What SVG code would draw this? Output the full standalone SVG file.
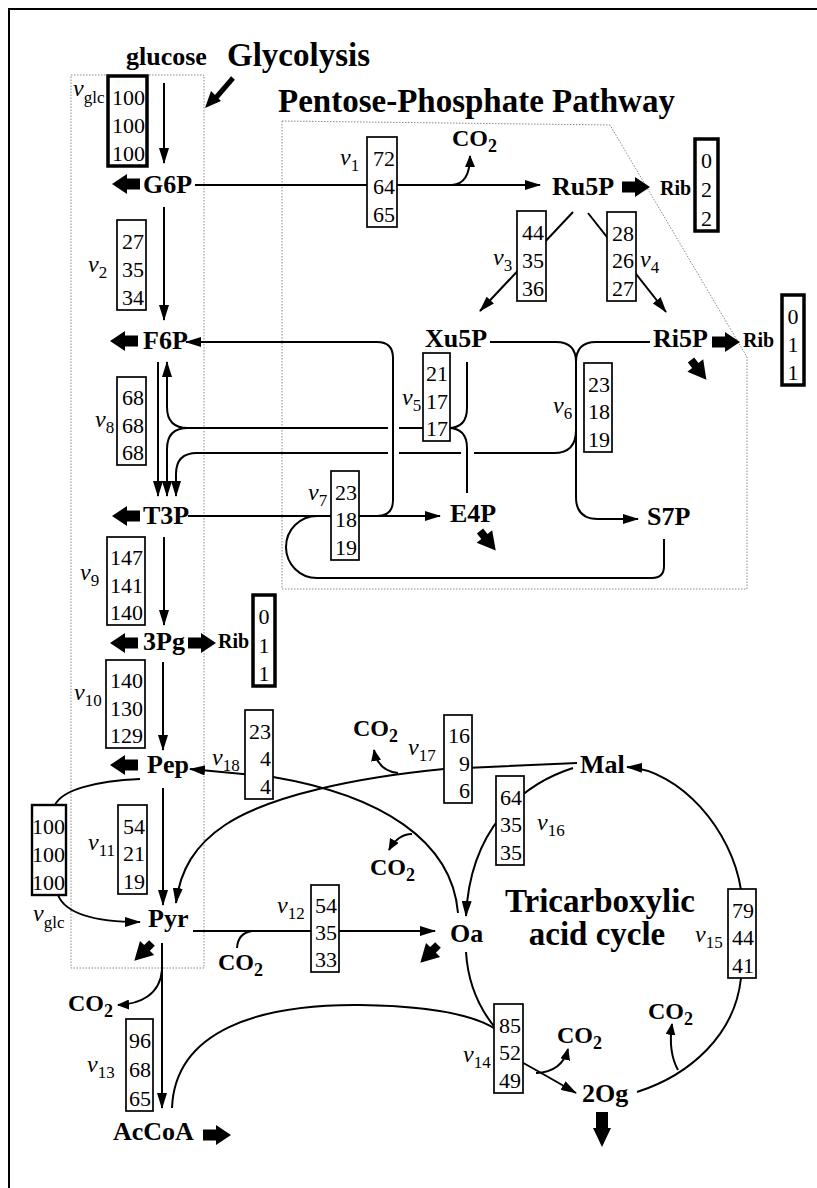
<svg xmlns="http://www.w3.org/2000/svg" xmlns:xlink="http://www.w3.org/1999/xlink" width="817" height="1188" viewBox="0 0 817 1188">
<style>
.ln{fill:none;stroke:#000;stroke-width:2}
.bx{fill:#fff;stroke:#000;stroke-width:1.7}
.bxt{fill:#fff;stroke:#000;stroke-width:3.5}
.bxm{fill:#fff;stroke:#000;stroke-width:2.4}
.dot{fill:none;stroke:#888;stroke-width:1;stroke-dasharray:1.5 1.5}
.n{font-family:"Liberation Serif","Times New Roman",serif;font-weight:bold;font-size:26px}
.t{font-family:"Liberation Serif","Times New Roman",serif;font-weight:bold;font-size:33px}
.rib{font-family:"Liberation Serif","Times New Roman",serif;font-weight:bold;font-size:20px}
.co{font-family:"Liberation Serif","Times New Roman",serif;font-weight:bold;font-size:24px}
.cs{font-size:18px}
.num{font-family:"Liberation Serif","Times New Roman",serif;font-size:22px;text-anchor:end}
.one{font-family:"Liberation Serif","Times New Roman",serif;font-size:22px;text-anchor:middle}
.v{font-family:"Liberation Serif","Times New Roman",serif;font-style:italic;font-size:24px}
.s{font-style:normal;font-size:17px}
</style>
<defs>
<marker id="ah" markerUnits="userSpaceOnUse" markerWidth="16" markerHeight="10" refX="15" refY="5" orient="auto"><path d="M0,0 L16,5 L0,10 Z"/></marker>
<marker id="as" markerUnits="userSpaceOnUse" markerWidth="12" markerHeight="10" refX="11" refY="5" orient="auto"><path d="M0,0 L12,5 L0,10 Z"/></marker>
<path id="fat" d="M0,-5.5 H13 V-10 L28,0 L13,10 V5.5 H0 Z"/>
<path id="fs" d="M0,-4 H7 V-10 L25,0 L7,10 V4 H0 Z"/>
</defs>
<rect width="817" height="1188" fill="#fff"/>
<path d="M9,1188 V9 H817" fill="none" stroke="#000" stroke-width="2"/>
<g id="regions">
<rect class="dot" x="71" y="75" width="133" height="893"/>
<path class="dot" d="M282,121 L610,125 L747,357 L747,589 L282,589 Z"/>
</g>
<g id="connectors">
<path class="ln" d="M164,83 V163" marker-end="url(#ah)"/>
<path class="ln" d="M195,185 H540" marker-end="url(#ah)"/>
<path class="ln" d="M452,185 Q470,184 470,156" marker-end="url(#as)"/>
<path class="ln" d="M164,207 V320" marker-end="url(#ah)"/>
<path class="ln" d="M573,212 L480,311" marker-end="url(#ah)"/>
<path class="ln" d="M588,213 L666,312" marker-end="url(#ah)"/>
<path class="ln" d="M467,362 V408 Q467,428 448,428"/>
<path class="ln" d="M448,428 Q467,428 467,448 V493"/>
<path class="ln" d="M448,428 H399 M388,428 H188"/>
<path class="ln" d="M188,428 Q167,428 167,407 V362" marker-end="url(#ah)"/>
<path class="ln" d="M188,428 Q167,428 167,449 V496" marker-end="url(#ah)"/>
<path class="ln" d="M490,342 H556 Q576,342 576,362"/>
<path class="ln" d="M650,342 H596 Q576,342 576,362"/>
<path class="ln" d="M576,362 V497 Q576,519 598,519 H638" marker-end="url(#ah)"/>
<path class="ln" d="M576,430 Q576,453 554,453 H474 M461,453 H399"/>
<path class="ln" d="M388,453 H197 Q176,453 176,474 V496" marker-end="url(#ah)"/>
<path class="ln" d="M188,516 H440" marker-end="url(#ah)"/>
<path class="ln" d="M360,516 H377 Q393,516 393,500 V358 Q393,342 377,342 H186" marker-end="url(#ah)"/>
<path class="ln" d="M664,539 V566 Q664,578 652,578 H317 A31,31 0 0 1 317,516 H331"/>
<path class="ln" d="M158,362 V496" marker-end="url(#ah)"/>
<path class="ln" d="M164,537 V625" marker-end="url(#ah)"/>
<path class="ln" d="M163,662 V750" marker-end="url(#ah)"/>
<path class="ln" d="M163,788 V905" marker-end="url(#ah)"/>
<path class="ln" d="M193,931 H435" marker-end="url(#ah)"/>
<path class="ln" d="M252,931 Q238,933 237,948"/>
<path class="ln" d="M162,943 V1108" marker-end="url(#ah)"/>
<path class="ln" d="M162,970 C160,995 140,1004 118,1005" marker-end="url(#as)"/>
<path class="ln" d="M466,952 C468,985 480,1010 497,1030"/>
<path class="ln" d="M172,1108 C175,1030 260,1004 360,1005 C430,1006 475,1015 497,1030"/>
<path class="ln" d="M518,1060 Q545,1075 576,1093" marker-end="url(#ah)"/>
<path class="ln" d="M536,1073 Q562,1072 568,1049" marker-end="url(#as)"/>
<path class="ln" d="M637,1092 C690,1075 735,1035 741,978"/>
<path class="ln" d="M741,890 C732,830 680,770 627,767" marker-end="url(#ah)"/>
<path class="ln" d="M678,1070 Q668,1052 672,1024" marker-end="url(#as)"/>
<path class="ln" d="M573,768 C520,785 470,830 466,916" marker-end="url(#ah)"/>
<path class="ln" d="M577,763 L444,769 C360,777 270,795 225,825 C195,845 180,870 176,903" marker-end="url(#ah)"/>
<path class="ln" d="M398,773 Q378,771 374,750" marker-end="url(#as)"/>
<path class="ln" d="M458,913 C452,840 380,795 273,777 L190,769" marker-end="url(#ah)"/>
<path class="ln" d="M412,834 Q398,834 389,850" marker-end="url(#as)"/>
<path class="ln" d="M140,779 C95,781 62,790 55,805"/>
<path class="ln" d="M58,895 C66,915 100,922 140,922" marker-end="url(#ah)"/>
<path d="M233,78 L214,100" stroke="#000" stroke-width="5" fill="none"/>
<path d="M205,108 L221,101 L211,91 Z"/>
</g>
<g id="titles">
<text class="t" x="227" y="66">Glycolysis</text>
<text class="t" x="278" y="112">Pentose-Phosphate Pathway</text>
<text class="t" x="600" y="912" text-anchor="middle">Tricarboxylic</text>
<text class="t" x="597" y="945" text-anchor="middle">acid cycle</text>
</g>
<g id="glucose"><text class="n" x="126" y="65" font-size="25">glucose</text></g>
<g id="G6P"><text class="n" x="143" y="193">G6P</text><use href="#fat" transform="translate(140,184) rotate(180)"/></g>
<g id="Ru5P"><text class="n" x="552" y="195">Ru5P</text><use href="#fat" transform="translate(622,187)"/><text class="rib" x="660" y="195">Rib</text></g>
<g id="Xu5P"><text class="n" x="425" y="347">Xu5P</text></g>
<g id="Ri5P"><text class="n" x="653" y="347">Ri5P</text><use href="#fat" transform="translate(712,342)"/><text class="rib" x="743" y="347">Rib</text><use href="#fs" transform="translate(691,360) rotate(52)"/></g>
<g id="F6P"><text class="n" x="143" y="349">F6P</text><use href="#fat" transform="translate(138,341) rotate(180)"/></g>
<g id="T3P"><text class="n" x="143" y="524">T3P</text><use href="#fat" transform="translate(140,516) rotate(180)"/></g>
<g id="E4P"><text class="n" x="450" y="522">E4P</text><use href="#fs" transform="translate(480,531) rotate(51)"/></g>
<g id="S7P"><text class="n" x="647" y="525">S7P</text></g>
<g id="3Pg"><text class="n" x="143" y="650">3Pg</text><use href="#fat" transform="translate(138,643) rotate(180)"/><use href="#fat" transform="translate(188,643)"/><text class="rib" x="218" y="648">Rib</text></g>
<g id="Pep"><text class="n" x="147" y="773">Pep</text><use href="#fat" transform="translate(138,765) rotate(180)"/></g>
<g id="Mal"><text class="n" x="580" y="773">Mal</text></g>
<g id="Pyr"><text class="n" x="148" y="927">Pyr</text><use href="#fs" transform="translate(152,943) rotate(135)"/></g>
<g id="Oa"><text class="n" x="450" y="942">Oa</text><use href="#fs" transform="translate(438,945) rotate(135)"/></g>
<g id="AcCoA"><text class="n" x="113" y="1140">AcCoA</text><use href="#fat" transform="translate(203,1135)"/></g>
<g id="2Og"><text class="n" x="582" y="1102">2Og</text><path d="M596,1112 H608 V1128 H611 L602,1147 L593,1128 H596 Z"/></g>
<g id="co2">
<text class="co" x="452" y="146">CO<tspan class="cs" dy="6">2</tspan></text>
<text class="co" x="353" y="736">CO<tspan class="cs" dy="6">2</tspan></text>
<text class="co" x="370" y="875">CO<tspan class="cs" dy="6">2</tspan></text>
<text class="co" x="218" y="970">CO<tspan class="cs" dy="6">2</tspan></text>
<text class="co" x="68" y="1011">CO<tspan class="cs" dy="6">2</tspan></text>
<text class="co" x="557" y="1043">CO<tspan class="cs" dy="6">2</tspan></text>
<text class="co" x="648" y="1019">CO<tspan class="cs" dy="6">2</tspan></text>
</g>
<g id="vglc1"><rect class="bxt" x="108" y="76" width="39" height="90"/><text class="num" x="145" y="105">100</text><text class="num" x="145" y="133">100</text><text class="num" x="145" y="161">100</text><text class="v" x="73" y="96">v<tspan class="s" dy="7">glc</tspan></text></g>
<g id="v1"><rect class="bx" x="367" y="137" width="30" height="90"/><text class="num" x="395" y="166">72</text><text class="num" x="395" y="194">64</text><text class="num" x="395" y="222">65</text><text class="v" x="340" y="165">v<tspan class="s" dy="6">1</tspan></text></g>
<g id="v2"><rect class="bx" x="117" y="220" width="29" height="90"/><text class="num" x="144" y="249">27</text><text class="num" x="144" y="277">35</text><text class="num" x="144" y="305">34</text><text class="v" x="88" y="272">v<tspan class="s" dy="6">2</tspan></text></g>
<g id="v3"><rect class="bx" x="517" y="211" width="29" height="90"/><text class="num" x="544" y="240">44</text><text class="num" x="544" y="268">35</text><text class="num" x="544" y="296">36</text><text class="v" x="493" y="265">v<tspan class="s" dy="6">3</tspan></text></g>
<g id="v4"><rect class="bx" x="607" y="212" width="29" height="89"/><text class="num" x="634" y="241">28</text><text class="num" x="634" y="268">26</text><text class="num" x="634" y="296">27</text><text class="v" x="640" y="267">v<tspan class="s" dy="6">4</tspan></text></g>
<g id="rib1"><rect class="bxt" x="695" y="139" width="23" height="92"/><text class="one" x="706.5" y="168">0</text><text class="one" x="706.5" y="197">2</text><text class="one" x="706.5" y="226">2</text></g>
<g id="rib2"><rect class="bxt" x="782" y="295" width="22" height="90"/><text class="one" x="793" y="324">0</text><text class="one" x="793" y="352">1</text><text class="one" x="793" y="380">1</text></g>
<g id="v5"><rect class="bx" x="423" y="353" width="27" height="88"/><text class="num" x="448" y="381">21</text><text class="num" x="448" y="409">17</text><text class="num" x="448" y="436">17</text><text class="v" x="402" y="405">v<tspan class="s" dy="6">5</tspan></text></g>
<g id="v6"><rect class="bx" x="584" y="363" width="28" height="89"/><text class="num" x="610" y="392">23</text><text class="num" x="610" y="419">18</text><text class="num" x="610" y="447">19</text><text class="v" x="553" y="413">v<tspan class="s" dy="6">6</tspan></text></g>
<g id="v8"><rect class="bx" x="117" y="377" width="29" height="88"/><text class="num" x="144" y="405">68</text><text class="num" x="144" y="433">68</text><text class="num" x="144" y="460">68</text><text class="v" x="95" y="427">v<tspan class="s" dy="6">8</tspan></text></g>
<g id="v7"><rect class="bx" x="331" y="471" width="28" height="89"/><text class="num" x="357" y="500">23</text><text class="num" x="357" y="527">18</text><text class="num" x="357" y="555">19</text><text class="v" x="308" y="500">v<tspan class="s" dy="6">7</tspan></text></g>
<g id="v9"><rect class="bx" x="107" y="537" width="38" height="88"/><text class="num" x="143" y="565">147</text><text class="num" x="143" y="593">141</text><text class="num" x="143" y="620">140</text><text class="v" x="80" y="580">v<tspan class="s" dy="6">9</tspan></text></g>
<g id="rib3"><rect class="bxt" x="253" y="595" width="22" height="91"/><text class="one" x="264" y="624">0</text><text class="one" x="264" y="653">1</text><text class="one" x="264" y="681">1</text></g>
<g id="v10"><rect class="bx" x="106" y="660" width="39" height="88"/><text class="num" x="143" y="688">140</text><text class="num" x="143" y="716">130</text><text class="num" x="143" y="743">129</text><text class="v" x="74" y="700">v<tspan class="s" dy="6">10</tspan></text></g>
<g id="v18"><rect class="bx" x="245" y="710" width="28" height="89"/><text class="num" x="271" y="739">23</text><text class="num" x="271" y="766">4</text><text class="num" x="271" y="794">4</text><text class="v" x="212" y="765">v<tspan class="s" dy="6">18</tspan></text></g>
<g id="v17"><rect class="bx" x="444" y="715" width="28" height="88"/><text class="num" x="470" y="743">16</text><text class="num" x="470" y="771">9</text><text class="num" x="470" y="798">6</text><text class="v" x="408" y="755">v<tspan class="s" dy="6">17</tspan></text></g>
<g id="v16"><rect class="bx" x="496" y="776" width="28" height="89"/><text class="num" x="522" y="805">64</text><text class="num" x="522" y="832">35</text><text class="num" x="522" y="860">35</text><text class="v" x="537" y="830">v<tspan class="s" dy="6">16</tspan></text></g>
<g id="vglc2"><rect class="bxm" x="32" y="805" width="34" height="90"/><text class="num" x="65" y="834">100</text><text class="num" x="65" y="862">100</text><text class="num" x="65" y="890">100</text><text class="v" x="33" y="921">v<tspan class="s" dy="7">glc</tspan></text></g>
<g id="v11"><rect class="bx" x="118" y="805" width="29" height="89"/><text class="num" x="145" y="834">54</text><text class="num" x="145" y="861">21</text><text class="num" x="145" y="889">19</text><text class="v" x="88" y="850">v<tspan class="s" dy="6">11</tspan></text></g>
<g id="v12"><rect class="bx" x="311" y="885" width="28" height="87"/><text class="num" x="337" y="913">54</text><text class="num" x="337" y="940">35</text><text class="num" x="337" y="967">33</text><text class="v" x="277" y="913">v<tspan class="s" dy="6">12</tspan></text></g>
<g id="v15"><rect class="bx" x="728" y="889" width="28" height="89"/><text class="num" x="754" y="918">79</text><text class="num" x="754" y="945">44</text><text class="num" x="754" y="973">41</text><text class="v" x="695" y="942">v<tspan class="s" dy="6">15</tspan></text></g>
<g id="v14"><rect class="bx" x="494" y="1004" width="29" height="89"/><text class="num" x="521" y="1033">85</text><text class="num" x="521" y="1060">52</text><text class="num" x="521" y="1088">49</text><text class="v" x="463" y="1062">v<tspan class="s" dy="6">14</tspan></text></g>
<g id="v13"><rect class="bx" x="126" y="1019" width="27" height="92"/><text class="num" x="151" y="1048">96</text><text class="num" x="151" y="1077">68</text><text class="num" x="151" y="1106">65</text><text class="v" x="87" y="1072">v<tspan class="s" dy="6">13</tspan></text></g>
</svg>
